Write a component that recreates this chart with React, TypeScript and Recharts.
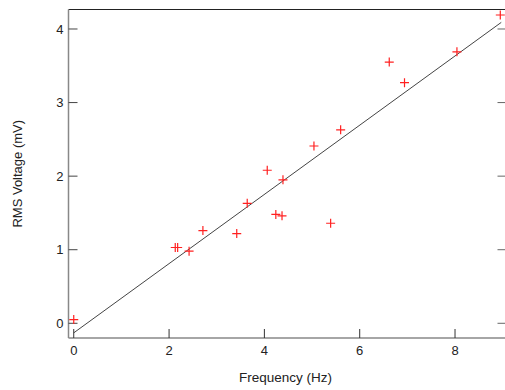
import { ComposedChart, Scatter, Line, XAxis, YAxis } from "recharts";

// measured points (Hz, mV)
const freqHz = [0, 2.13, 2.18, 2.42, 2.71, 3.42, 3.64, 4.06, 4.24, 4.37, 4.39, 5.04, 5.39, 5.6, 6.62, 6.94, 8.04, 8.95];
const rmsMv = [0.05, 1.03, 1.03, 0.98, 1.26, 1.22, 1.63, 2.08, 1.48, 1.46, 1.95, 2.41, 1.36, 2.63, 3.55, 3.27, 3.69, 4.19];

// least-squares fit line ends
const fitX = [0, 8.97];
const fitY = [-0.13, 4.09];

const xTicks = [0, 2, 4, 6, 8];
const yTicks = [0, 1, 2, 3, 4];

const points = freqHz.map((x, i) => ({ x, y: rmsMv[i] }));
const fit = fitX.map((x, i) => ({ x, y: fitY[i] }));

const FONT = "'Liberation Sans', Arial, sans-serif";
const blank = () => "";

function Plus(props: any) {
  const { cx, cy } = props;
  if (cx == null || cy == null) return null;
  return (
    <g stroke="#ff2020" strokeWidth={1.2}>
      <line x1={cx - 4.5} y1={cy} x2={cx + 4.5} y2={cy} />
      <line x1={cx} y1={cy - 4.5} x2={cx} y2={cy + 4.5} />
    </g>
  );
}

function XTitle(props: any) {
  const vb = props.viewBox;
  return (
    <text x={vb.x + vb.width / 2 - 2} y={381.5} textAnchor="middle" fontFamily={FONT} fontSize={13.5} fill="#222">
      Frequency (Hz)
    </text>
  );
}

function YTitle(props: any) {
  const vb = props.viewBox;
  const cy = vb.y + vb.height / 2;
  return (
    <text x={22} y={cy} textAnchor="middle" transform={`rotate(-90, 22, ${cy})`} fontFamily={FONT} fontSize={13} fill="#222">
      RMS Voltage (mV)
    </text>
  );
}

export default function App() {
  const tickText = { fontFamily: FONT, fontSize: 13, fill: "#222" };
  return (
    <div style={{ position: "absolute", left: 0, top: 0, width: 505, height: 390, overflow: "hidden", background: "#fff" }}>
      <ComposedChart width={520} height={390} margin={{ top: 8.5, right: 12.5, bottom: 0, left: 0 }}>
        <XAxis
          dataKey="x"
          type="number"
          domain={[-0.11, 9.08]}
          ticks={xTicks}
          allowDataOverflow
          height={52}
          tickSize={-9}
          tickMargin={16.5}
          tick={tickText}
          tickLine={{ stroke: "#333" }}
          axisLine={{ stroke: "#888", strokeWidth: 1.5 }}
          label={<XTitle />}
        />
        <XAxis
          xAxisId="top"
          orientation="top"
          type="number"
          domain={[-0.11, 9.08]}
          ticks={xTicks}
          allowDataOverflow
          height={1}
          tickSize={-9}
          tickFormatter={blank}
          tickLine={{ stroke: "#333" }}
          axisLine={{ stroke: "#222" }}
        />
        <YAxis
          dataKey="y"
          type="number"
          domain={[-0.2, 4.265]}
          ticks={yTicks}
          allowDataOverflow
          width={68.5}
          tickSize={-9}
          tickMargin={14}
          tick={tickText}
          tickLine={{ stroke: "#444" }}
          axisLine={{ stroke: "#888", strokeWidth: 1.5 }}
          label={<YTitle />}
        />
        <YAxis
          yAxisId="right"
          orientation="right"
          type="number"
          domain={[-0.2, 4.265]}
          ticks={yTicks}
          allowDataOverflow
          width={1}
          tickSize={-9}
          tickFormatter={blank}
          tickLine={{ stroke: "#666" }}
          axisLine={{ stroke: "#222" }}
        />
        <Line
          data={fit}
          dataKey="y"
          stroke="#444"
          strokeWidth={1}
          dot={false}
          activeDot={false}
          isAnimationActive={false}
        />
        <Scatter data={points} dataKey="y" shape={<Plus />} isAnimationActive={false} />
      </ComposedChart>
    </div>
  );
}
